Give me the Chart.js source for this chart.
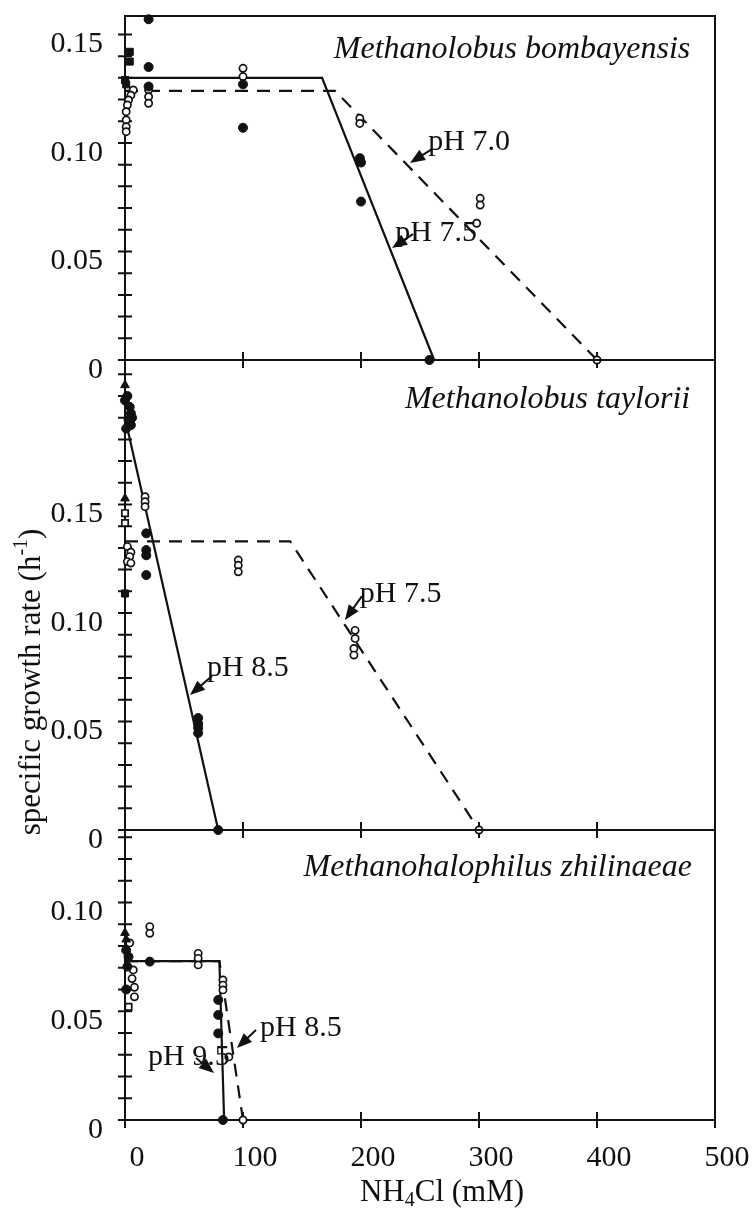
<!DOCTYPE html>
<html>
<head>
<meta charset="utf-8">
<script src="https://cdn.jsdelivr.net/npm/chart.js@4.4.1/dist/chart.umd.min.js"></script>
<style>
  body { margin: 0; background: #fff; }
  #wrap { position: relative; width: 754px; height: 1217px; }
  canvas { position: absolute; left: 0; }
</style>
</head>
<body>
<div id="wrap">
  <canvas id="bomb" width="754" height="400" style="top:0px"></canvas>
  <canvas id="tayl" width="754" height="530" style="top:340px"></canvas>
  <canvas id="zhil" width="754" height="407" style="top:810px"></canvas>
</div>
<script>
// tick labels
var xTickLabels = ['0', '100', '200', '300', '400', '500'];
var yTickLabels = ['0', '0.05', '0.10', '0.15'];

// Methanolobus bombayensis
var bombFit75X = [0, 167, 262];
var bombFit75Y = [0.130, 0.130, 0];
var bombFit70X = [0, 178, 400];
var bombFit70Y = [0.124, 0.124, 0];
var bomb75X = [20, 20, 20, 100, 100, 199, 200, 200, 258];
var bomb75Y = [0.157, 0.135, 0.126, 0.127, 0.107, 0.093, 0.091, 0.073, 0];
var bomb70X = [7, 5, 3, 2, 1, 1, 1, 1, 20, 20, 20, 100, 100, 199, 199, 301, 301, 298, 400];
var bomb70Y = [0.1244, 0.122, 0.1198, 0.1175, 0.1144, 0.1106, 0.1075, 0.1052, 0.1244, 0.1213, 0.1183,
               0.1344, 0.1306, 0.1114, 0.109, 0.0745, 0.0714, 0.063, 0];
var bombSqX = [4, 4, 0, 1];
var bombSqY = [0.142, 0.1375, 0.129, 0.127];

// Methanolobus taylorii
var taylFit85X = [0, 79];
var taylFit85Y = [0.190, 0];
var taylFit75X = [0, 140, 300];
var taylFit75Y = [0.133, 0.133, 0];
var tayl85X = [0, 2, 4, 5, 3, 5, 1, 6, 18, 18, 18, 18, 62, 62, 62, 62, 79];
var tayl85Y = [0.198, 0.200, 0.195, 0.192, 0.189, 0.1866, 0.185, 0.190, 0.1367, 0.129, 0.1266, 0.1175,
               0.0516, 0.049, 0.047, 0.0447, 0];
var tayl75X = [2, 5, 4, 2, 5, 17, 17, 17, 96, 96, 96, 195, 195, 194, 194, 300];
var tayl75Y = [0.1306, 0.128, 0.126, 0.1237, 0.123, 0.1536, 0.1513, 0.149, 0.1244, 0.122, 0.119,
               0.092, 0.0883, 0.0837, 0.0806, 0];
var taylTriX = [0, 0];
var taylTriY = [0.205, 0.1528];
var taylOpenSqX = [0, 0];
var taylOpenSqY = [0.146, 0.1415];
var taylSqX = [0];
var taylSqY = [0.109];

// Methanohalophilus zhilinaeae
var zhilFit95X = [0, 80, 84];
var zhilFit95Y = [0.073, 0.073, 0];
var zhilFit85X = [0, 80, 100];
var zhilFit85Y = [0.073, 0.073, 0];
var zhil95X = [1, 3, 2, 1, 21, 79, 79, 79, 83];
var zhil95Y = [0.078, 0.075, 0.0705, 0.060, 0.0728, 0.0552, 0.0483, 0.0398, 0];
var zhil85X = [4, 7, 6, 8, 8, 21, 21, 62, 62, 62, 83, 83, 83, 88, 100];
var zhil85Y = [0.0814, 0.069, 0.065, 0.061, 0.0566, 0.0889, 0.0858, 0.0766, 0.0743, 0.0713,
               0.0644, 0.062, 0.0598, 0.029, 0];
var zhilTriX = [0, 1];
var zhilTriY = [0.086, 0.083];
var zhilOpenSqX = [3];
var zhilOpenSqY = [0.052];

var ink = '#111';
var serif = '"Liberation Serif", "Times New Roman", Times, serif';

Chart.defaults.font.family = serif;
Chart.defaults.font.size = 30;
Chart.defaults.color = ink;

function pts(xs, ys) {
	return xs.map(function(x, i) {
		return { x : x, y : ys[i] };
	});
}

function fitLine(xs, ys, dashed) {
	return {
		data : pts(xs, ys),
		showLine : true,
		borderColor : ink,
		borderWidth : 2.2,
		borderDash : dashed ? [ 13, 9 ] : [],
		pointRadius : 0,
		clip : false,
		order : 2
	};
}

function marks(xs, ys, style, filled, r) {
	return {
		data : pts(xs, ys),
		showLine : false,
		pointStyle : style,
		pointRadius : r,
		backgroundColor : filled ? ink : '#fff',
		borderColor : ink,
		borderWidth : filled ? 1 : 1.7,
		clip : false,
		order : 1
	};
}

function arrow(ctx, x1, y1, x2, y2) {
	var a = Math.atan2(y2 - y1, x2 - x1), L = 15, W = 6;
	ctx.beginPath();
	ctx.moveTo(x1, y1);
	ctx.lineTo(x2 - L * 0.6 * Math.cos(a), y2 - L * 0.6 * Math.sin(a));
	ctx.lineWidth = 2;
	ctx.stroke();
	ctx.beginPath();
	ctx.moveTo(x2, y2);
	ctx.lineTo(x2 - L * Math.cos(a) + W * Math.sin(a), y2 - L * Math.sin(a) - W * Math.cos(a));
	ctx.lineTo(x2 - L * Math.cos(a) - W * Math.sin(a), y2 - L * Math.sin(a) + W * Math.cos(a));
	ctx.closePath();
	ctx.fill();
}

// text runs with sub/superscripts, centred on (cx, cy)
function richText(ctx, parts, cx, cy, angle) {
	var total = 0;
	parts.forEach(function(p) {
		ctx.font = p.size + 'px ' + serif;
		p.w = ctx.measureText(p.t).width;
		total += p.w;
	});
	ctx.save();
	ctx.translate(cx, cy);
	ctx.rotate(angle);
	ctx.textAlign = 'left';
	ctx.textBaseline = 'middle';
	var x = -total / 2;
	parts.forEach(function(p) {
		ctx.font = p.size + 'px ' + serif;
		ctx.fillText(p.t, x, p.dy || 0);
		x += p.w;
	});
	ctx.restore();
}

var decor = {
	id : 'decor',
	beforeDatasetsDraw : function(chart) {
		var ctx = chart.ctx, area = chart.chartArea;
		var xs = chart.scales.x, ys = chart.scales.y;
		ctx.save();
		ctx.strokeStyle = ink;
		ctx.lineWidth = 2;
		ctx.strokeRect(area.left, area.top, area.right - area.left, area.bottom - area.top);
		ctx.beginPath();
		ys.ticks.forEach(function(t) {
			var y = ys.getPixelForValue(t.value);
			ctx.moveTo(area.left - 7, y);
			ctx.lineTo(area.left + 7, y);
		});
		xs.ticks.forEach(function(t) {
			var x = xs.getPixelForValue(t.value);
			ctx.moveTo(x, area.bottom - 8);
			ctx.lineTo(x, area.bottom + 8);
		});
		ctx.stroke();
		ctx.restore();
	},
	afterDatasetsDraw : function(chart, args, opts) {
		var ctx = chart.ctx;
		var xs = chart.scales.x, ys = chart.scales.y;
		ctx.save();
		ctx.fillStyle = ink;
		ctx.strokeStyle = ink;
		ctx.textBaseline = 'middle';

		if (opts.species) {
			ctx.font = 'italic 32px ' + serif;
			ctx.textAlign = 'right';
			ctx.fillText(opts.species.text, xs.getPixelForValue(opts.species.x),
					ys.getPixelForValue(opts.species.y));
		}

		ctx.font = '30px ' + serif;
		ctx.textAlign = 'left';
		(opts.notes || []).forEach(function(n) {
			ctx.fillText(n.text, xs.getPixelForValue(n.x), ys.getPixelForValue(n.y));
			arrow(ctx, xs.getPixelForValue(n.from[0]), ys.getPixelForValue(n.from[1]),
					xs.getPixelForValue(n.to[0]), ys.getPixelForValue(n.to[1]));
		});

		if (opts.yTitle) {
			richText(ctx, [ { t : 'specific growth rate (h', size : 31 },
					{ t : '-1', size : 20, dy : -10 }, { t : ')', size : 31 } ],
					opts.yTitle.cx, opts.yTitle.cy, -Math.PI / 2);
		}
		if (opts.xTitle) {
			richText(ctx, [ { t : 'NH', size : 31 }, { t : '4', size : 20, dy : 8 },
					{ t : 'Cl (mM)', size : 31 } ], opts.xTitle.cx, opts.xTitle.cy, 0);
		}
		ctx.restore();
	}
};

function makePanel(id, cfg) {
	return new Chart(document.getElementById(id), {
		type : 'scatter',
		data : { datasets : cfg.datasets },
		options : {
			responsive : false,
			animation : false,
			devicePixelRatio : 1,
			events : [],
			layout : {
				padding : { top : cfg.padTop, bottom : cfg.padBottom, left : 0, right : 39 }
			},
			plugins : {
				legend : { display : false },
				tooltip : { enabled : false },
				decor : cfg.decor
			},
			scales : {
				x : {
					type : 'linear',
					min : 0,
					max : 500,
					grid : { display : false, drawTicks : false },
					border : { display : false },
					afterBuildTicks : function(s) {
						s.ticks = xTickLabels.map(function(l, i) {
							return { value : i * 100 };
						});
					},
					ticks : {
						display : cfg.showX,
						autoSkip : false,
						maxRotation : 0,
						minRotation : 0,
						padding : 20,
						labelOffset : 12,
						callback : function(v) {
							return xTickLabels[Math.round(v / 100)];
						}
					},
					afterFit : function(s) {
						s.height = cfg.xHeight;
						s.paddingLeft = 0;
						s.paddingRight = 0;
					}
				},
				y : {
					type : 'linear',
					min : 0,
					max : cfg.yMax,
					grid : { display : false, drawTicks : false },
					border : { display : false },
					afterBuildTicks : function(s) {
						var t = [];
						for (var i = 0; i / 100 <= s.max + 1e-9; i++) {
							t.push({ value : i / 100 });
						}
						s.ticks = t;
					},
					ticks : {
						autoSkip : false,
						padding : 22,
						labelOffset : 10,
						callback : function(v) {
							var k = Math.round(v * 100);
							return k % 5 === 0 ? (yTickLabels[k / 5] || '') : '';
						}
					},
					afterFit : function(s) {
						s.width = 125;
						s.paddingTop = 0;
						s.paddingBottom = 0;
					}
				}
			}
		},
		plugins : [ decor ]
	});
}

makePanel('bomb', {
	yMax : 0.1585, padTop : 16, padBottom : 40, xHeight : 0, showX : false,
	datasets : [
		marks(bombSqX, bombSqY, 'rect', true, 5),
		marks(bomb75X, bomb75Y, 'circle', true, 4.5),
		marks(bomb70X, bomb70Y, 'circle', false, 3.6),
		fitLine(bombFit75X, bombFit75Y, false),
		fitLine(bombFit70X, bombFit70Y, true)
	],
	decor : {
		species : { text : 'Methanolobus bombayensis', x : 479, y : 0.143 },
		notes : [
			{ text : 'pH 7.0', x : 257, y : 0.1005, from : [ 260.2, 0.0972 ], to : [ 241.5, 0.0908 ] },
			{ text : 'pH 7.5', x : 229, y : 0.0585, from : [ 244, 0.058 ], to : [ 226.3, 0.0516 ] }
		]
	}
});

makePanel('tayl', {
	yMax : 0.2166, padTop : 20, padBottom : 40, xHeight : 0, showX : false,
	datasets : [
		marks(taylTriX, taylTriY, 'triangle', true, 5),
		marks(taylOpenSqX, taylOpenSqY, 'rect', false, 4.5),
		marks(taylSqX, taylSqY, 'rect', true, 5),
		marks(tayl85X, tayl85Y, 'circle', true, 4.5),
		marks(tayl75X, tayl75Y, 'circle', false, 3.6),
		fitLine(taylFit85X, taylFit85Y, false),
		fitLine(taylFit75X, taylFit75Y, true)
	],
	decor : {
		species : { text : 'Methanolobus taylorii', x : 479, y : 0.1982 },
		notes : [
			{ text : 'pH 8.5', x : 69.5, y : 0.0747, from : [ 73.7, 0.071 ], to : [ 55.1, 0.0622 ] },
			{ text : 'pH 7.5', x : 199, y : 0.1088, from : [ 200.8, 0.1078 ], to : [ 186.4, 0.0968 ] }
		],
		yTitle : { cx : 32, cy : 342 }
	}
});

makePanel('zhil', {
	yMax : 0.1333, padTop : 20, padBottom : 0, xHeight : 97, showX : true,
	datasets : [
		marks(zhilTriX, zhilTriY, 'triangle', true, 5),
		marks(zhilOpenSqX, zhilOpenSqY, 'rect', false, 4.5),
		marks(zhil95X, zhil95Y, 'circle', true, 4.5),
		marks(zhil85X, zhil85Y, 'circle', false, 3.6),
		fitLine(zhilFit95X, zhilFit95Y, false),
		fitLine(zhilFit85X, zhilFit85Y, true)
	],
	decor : {
		species : { text : 'Methanohalophilus zhilinaeae', x : 480.5, y : 0.1159 },
		notes : [
			{ text : 'pH 8.5', x : 114.4, y : 0.0423, from : [ 111, 0.0414 ], to : [ 94.9, 0.0331 ] },
			{ text : 'pH 9.5', x : 19.5, y : 0.029, from : [ 60.2, 0.0285 ], to : [ 75.4, 0.0216 ] }
		],
		xTitle : { cx : 442, cy : 383 }
	}
});
</script>
</body>
</html>
